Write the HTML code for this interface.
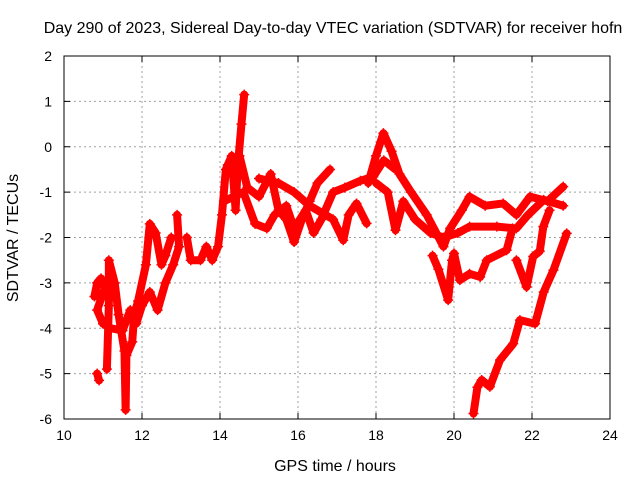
<!DOCTYPE html>
<html><head><meta charset="utf-8"><style>
body{margin:0;background:#fff}
svg{display:block;font-family:"Liberation Sans",sans-serif}
</style></head><body>
<svg id="chart" width="640" height="480" viewBox="0 0 640 480" xmlns="http://www.w3.org/2000/svg">
<text x="333" y="33" font-size="16" text-anchor="middle">Day 290 of 2023, Sidereal Day-to-day VTEC variation (SDTVAR) for receiver hofn</text>
<text x="335" y="471" font-size="16" text-anchor="middle">GPS time / hours</text>
<text transform="translate(18,238) rotate(-90)" font-size="16" text-anchor="middle">SDTVAR / TECUs</text>
<g id="grid"></g>
<g id="axes"></g>
<g id="series"></g>
<rect x="64" y="56" width="546" height="363" fill="none" stroke="#000" stroke-width="1"/>
</svg>
<script>
const xTicks=[10,12,14,16,18,20,22,24];
const yTicks=[2,1,0,-1,-2,-3,-4,-5,-6];
const tracks=[
[[10.85,-5.0],[10.9,-5.15]],
[[10.78,-3.3],[10.85,-3.0],[10.95,-2.9],[11.05,-3.1],[10.85,-3.6],[11.0,-3.9],[11.2,-4.0],[11.5,-4.05],[11.7,-3.6],[11.85,-3.9],[12.0,-3.5],[12.2,-3.2],[12.4,-3.6],[12.6,-3.0],[12.8,-2.6],[12.95,-2.2],[12.9,-1.5]],
[[11.1,-4.9],[11.15,-3.5],[11.15,-2.5],[11.3,-3.0],[11.4,-3.7],[11.55,-4.5],[11.58,-5.8],[11.6,-4.6],[11.75,-4.3],[11.8,-3.7],[11.9,-3.4],[12.1,-2.6],[12.2,-1.7],[12.35,-1.9],[12.5,-2.6],[12.6,-2.4],[12.75,-2.0]],
[[13.15,-2.0],[13.25,-2.5],[13.5,-2.5],[13.65,-2.2],[13.8,-2.5],[13.95,-2.2],[14.05,-1.5],[14.15,-0.5],[14.3,-0.2],[14.4,-1.4],[14.45,-0.5],[14.55,0.5],[14.62,1.15]],
[[14.2,-0.4],[14.5,-0.2],[14.7,-0.9],[15.0,-1.1],[15.3,-0.6],[15.5,-1.4],[15.7,-1.6],[15.9,-2.1],[16.1,-1.6],[16.3,-1.2],[16.5,-0.8],[16.82,-0.5]],
[[14.1,-1.2],[14.6,-1.0],[14.9,-1.7],[15.2,-1.8],[15.4,-1.5],[15.7,-1.3],[15.9,-1.8],[16.2,-1.4],[16.4,-1.9],[16.6,-1.6],[16.9,-1.0],[17.2,-0.9],[17.6,-0.75],[17.93,-0.66],[18.2,-0.3],[18.5,-0.5]],
[[15.0,-0.7],[15.5,-0.8],[15.9,-1.0],[16.3,-1.3],[16.9,-1.6],[17.16,-2.06],[17.3,-1.5],[17.5,-1.25],[17.76,-1.69]],
[[17.8,-0.8],[18.0,-0.2],[18.19,0.3],[18.4,-0.1],[18.6,-0.6],[18.9,-1.0],[19.3,-1.5],[19.73,-2.2],[19.9,-1.8],[20.2,-1.4],[20.4,-1.1],[20.8,-1.3],[21.26,-1.25],[21.6,-1.5],[21.95,-1.1],[22.4,-1.2],[22.8,-0.88]],
[[18.0,-0.8],[18.3,-1.0],[18.5,-1.84],[18.7,-1.2],[19.0,-1.6],[19.4,-1.9],[19.73,-2.0],[20.1,-1.9],[20.4,-1.76],[21.1,-1.76],[21.6,-1.8],[21.9,-1.5],[22.3,-1.17],[22.8,-1.3]],
[[19.45,-2.4],[19.6,-2.7],[19.85,-3.38],[19.95,-2.5],[20.0,-2.35],[20.15,-2.94],[20.4,-2.8],[20.67,-2.87],[20.84,-2.5],[21.35,-2.28],[21.5,-1.8]],
[[21.6,-2.5],[21.86,-3.09],[22.03,-2.42],[22.2,-2.3],[22.29,-1.76],[22.45,-1.4]],
[[20.5,-5.88],[20.6,-5.3],[20.71,-5.14],[20.92,-5.29],[21.18,-4.7],[21.52,-4.34],[21.69,-3.82],[22.08,-3.9],[22.3,-3.2],[22.55,-2.72],[22.89,-1.91]]
];
const NS="http://www.w3.org/2000/svg";
const X0=64,X1=610,Y0=419,Y1=56;
function xs(h){return X0+(h-10)/(24-10)*(X1-X0);}
function ys(v){return Y0-(v+6)/(2+6)*(Y0-Y1);}
const grid=document.getElementById('grid'),axes=document.getElementById('axes'),ser=document.getElementById('series');
function mk(tag,attrs,parent){const e=document.createElementNS(NS,tag);for(const k in attrs)e.setAttribute(k,attrs[k]);parent.appendChild(e);return e;}
xTicks.forEach(t=>{const x=xs(t);
 if(t>10&&t<24){const g=mk('line',{x1:x,x2:x,y1:Y1,y2:Y0,stroke:'#a0a0a0','stroke-dasharray':'2,3'},grid);}
 mk('line',{x1:x,x2:x,y1:Y0,y2:Y0-6,stroke:'#000'},axes);mk('line',{x1:x,x2:x,y1:Y1,y2:Y1+6,stroke:'#000'},axes);
 const l=mk('text',{x:x,y:Y0+21,'font-size':14,'text-anchor':'middle'},axes);l.textContent=t;
 });
yTicks.forEach(t=>{const y=ys(t);
 if(t>-6&&t<2){const g=mk('line',{x1:X0,x2:X1,y1:y,y2:y,stroke:'#a0a0a0','stroke-dasharray':'2,3'},grid);}
 mk('line',{x1:X0,x2:X0+6,y1:y,y2:y,stroke:'#000'},axes);mk('line',{x1:X1,x2:X1-6,y1:y,y2:y,stroke:'#000'},axes);
 const l=mk('text',{x:X0-12,y:y+5,'font-size':14,'text-anchor':'end'},axes);l.textContent=t;
 });
tracks.forEach((tr,i)=>{
 const p=mk('polyline',{points:tr.map(d=>xs(d[0])+','+ys(d[1])).join(' '),fill:'none',stroke:'#ff0000','stroke-width':8,'stroke-linejoin':'round','stroke-linecap':'round'},ser);
 
 
 tr.forEach(d=>{const x=xs(d[0]),y=ys(d[1]);
  const m=mk('path',{d:`M${x-5},${y}H${x+5}M${x},${y-5}V${y+5}`,stroke:'#ff0000','stroke-width':1.5},ser);
  
  });
});
</script>
</body></html>
